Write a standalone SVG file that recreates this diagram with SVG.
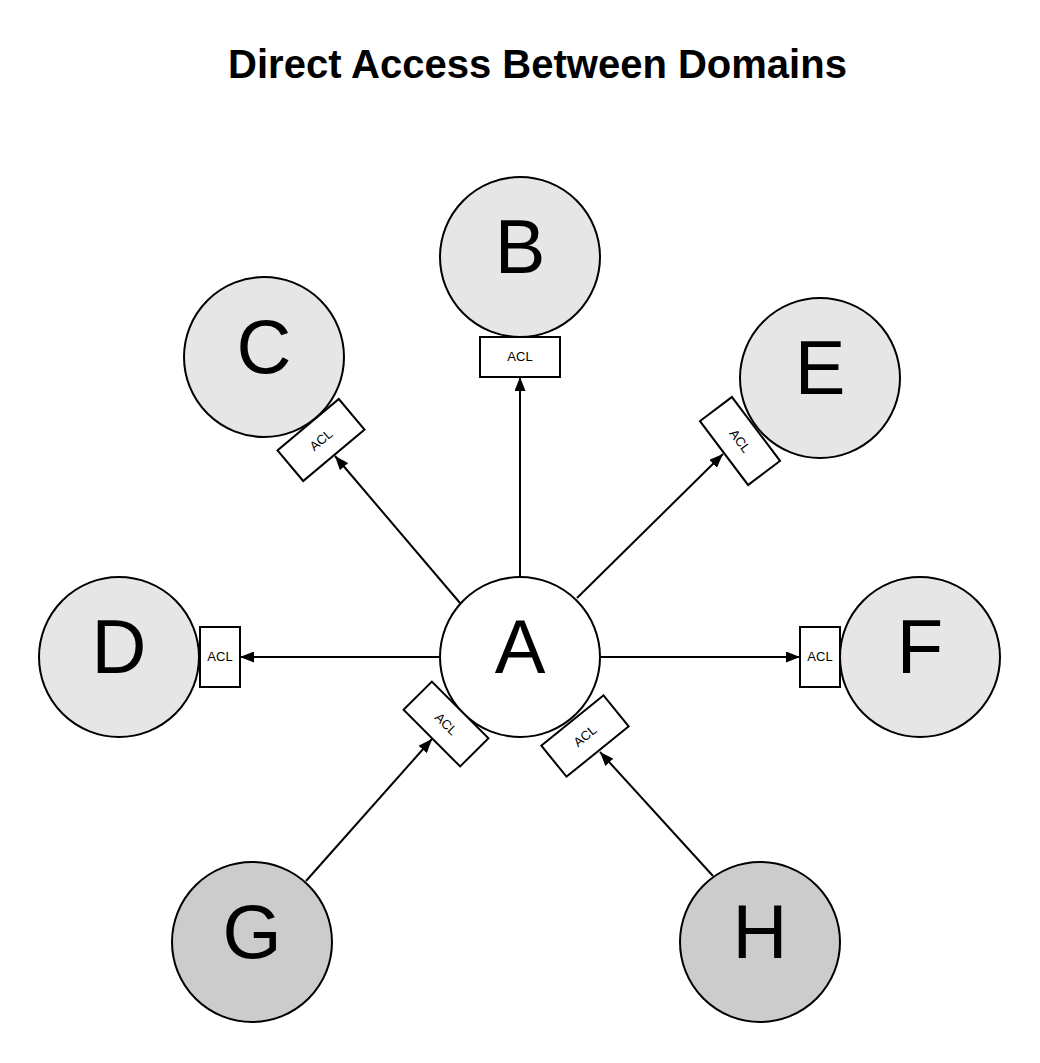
<svg xmlns="http://www.w3.org/2000/svg" width="1040" height="1063" viewBox="0 0 1040 1063">
<style>
.n{stroke:#000;stroke-width:2}
.lt{fill:#e6e6e6}
.dk{fill:#cccccc}
.wh{fill:#fff}
.lbl{font-family:"Liberation Sans",Arial,sans-serif;font-size:76px;fill:#000;text-anchor:middle}
.acl rect{fill:#fff;stroke:#000;stroke-width:2}
.acl text{font-family:"Liberation Sans",Arial,sans-serif;font-size:13px;fill:#000;text-anchor:middle}
.c{stroke:#000;stroke-width:2;fill:none;marker-end:url(#ah)}
.title{font-family:"Liberation Sans",Arial,sans-serif;font-size:40px;font-weight:bold;fill:#000;text-anchor:middle}
</style>
<defs>
<marker id="ah" viewBox="0 0 14 11" refX="14" refY="5.5" markerWidth="14" markerHeight="11" markerUnits="userSpaceOnUse" orient="auto">
<path d="M0,0 L14,5.5 L0,11 z" fill="#000"/>
</marker>
</defs>
<rect width="1040" height="1063" fill="#fff"/>
<text class="title" x="537.5" y="78">Direct Access Between Domains</text>

<g id="connectors">
<line class="c" x1="520" y1="577" x2="520" y2="377"/>
<line class="c" x1="460" y1="603" x2="335" y2="456"/>
<line class="c" x1="577" y1="598" x2="723" y2="454"/>
<line class="c" x1="440" y1="657" x2="240" y2="657"/>
<line class="c" x1="600" y1="657" x2="800" y2="657"/>
<line class="c" x1="306" y1="881" x2="432" y2="739"/>
<line class="c" x1="713" y1="876" x2="600" y2="752"/>
</g>

<g id="node-A"><circle class="n wh" cx="520" cy="657" r="80"/><text class="lbl" x="520" y="673">A</text></g>
<g id="node-B"><circle class="n lt" cx="520" cy="257" r="80"/><text class="lbl" x="520" y="273">B</text></g>
<g id="node-C"><circle class="n lt" cx="264" cy="357" r="80"/><text class="lbl" x="264" y="373">C</text></g>
<g id="node-E"><circle class="n lt" cx="820" cy="378" r="80"/><text class="lbl" x="820" y="394">E</text></g>
<g id="node-D"><circle class="n lt" cx="119" cy="657" r="80"/><text class="lbl" x="119" y="673">D</text></g>
<g id="node-F"><circle class="n lt" cx="920" cy="657" r="80"/><text class="lbl" x="920" y="673">F</text></g>
<g id="node-G"><circle class="n dk" cx="252" cy="942" r="80"/><text class="lbl" x="252" y="958">G</text></g>
<g id="node-H"><circle class="n dk" cx="760" cy="942" r="80"/><text class="lbl" x="760" y="958">H</text></g>

<g id="acl-B" class="acl"><rect x="480" y="337" width="80" height="40"/><text x="520" y="361">ACL</text></g>
<g id="acl-D" class="acl"><rect x="200" y="627" width="40" height="60"/><text x="220" y="661">ACL</text></g>
<g id="acl-F" class="acl"><rect x="800" y="627" width="40" height="60"/><text x="820" y="661">ACL</text></g>
<g id="acl-C" class="acl" transform="translate(321,440) rotate(-40)"><rect x="-40" y="-20" width="80" height="40"/><text x="0" y="4.5">ACL</text></g>
<g id="acl-E" class="acl" transform="translate(740,441) rotate(53)"><rect x="-40" y="-20" width="80" height="40"/><text x="0" y="4.5">ACL</text></g>
<g id="acl-G" class="acl" transform="translate(446,724) rotate(45)"><rect x="-40" y="-20" width="80" height="40"/><text x="0" y="4.5">ACL</text></g>
<g id="acl-H" class="acl" transform="translate(585,736) rotate(-39)"><rect x="-40" y="-20" width="80" height="40"/><text x="0" y="4.5">ACL</text></g>
</svg>
